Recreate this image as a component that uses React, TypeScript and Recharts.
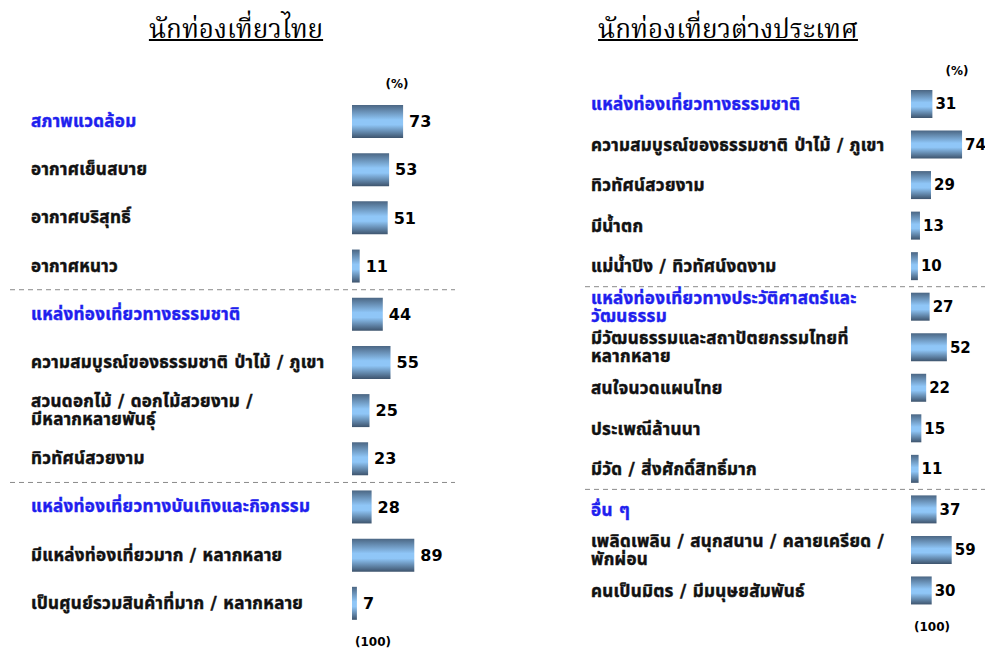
import { Bar, BarChart, LabelList, XAxis, YAxis } from "recharts";

// left panel: Thai tourists
const thaiLabels = [
  "สภาพแวดล้อม",
  "อากาศเย็นสบาย",
  "อากาศบริสุทธิ์",
  "อากาศหนาว",
  "แหล่งท่องเที่ยวทางธรรมชาติ",
  "ความสมบูรณ์ของธรรมชาติ ป่าไม้ / ภูเขา",
  "สวนดอกไม้ / ดอกไม้สวยงาม /\nมีหลากหลายพันธุ์",
  "ทิวทัศน์สวยงาม",
  "แหล่งท่องเที่ยวทางบันเทิงและกิจกรรม",
  "มีแหล่งท่องเที่ยวมาก / หลากหลาย",
  "เป็นศูนย์รวมสินค้าที่มาก / หลากหลาย",
];
const thaiValues = [73, 53, 51, 11, 44, 55, 25, 23, 28, 89, 7];
const thaiHeaders = [0, 4, 8];

// right panel: foreign tourists
const foreignLabels = [
  "แหล่งท่องเที่ยวทางธรรมชาติ",
  "ความสมบูรณ์ของธรรมชาติ ป่าไม้ / ภูเขา",
  "ทิวทัศน์สวยงาม",
  "มีน้ำตก",
  "แม่น้ำปิง / ทิวทัศน์งดงาม",
  "แหล่งท่องเที่ยวทางประวัติศาสตร์และ\nวัฒนธรรม",
  "มีวัฒนธรรมและสถาปัตยกรรมไทยที่\nหลากหลาย",
  "สนใจนวดแผนไทย",
  "ประเพณีล้านนา",
  "มีวัด / สิ่งศักดิ์สิทธิ์มาก",
  "อื่น ๆ",
  "เพลิดเพลิน / สนุกสนาน / คลายเครียด /\nพักผ่อน",
  "คนเป็นมิตร / มีมนุษยสัมพันธ์",
];
const foreignValues = [31, 74, 29, 13, 10, 27, 52, 22, 15, 11, 37, 59, 30];
const foreignHeaders = [0, 5, 10];

const font = 'Tahoma, Verdana, "DejaVu Sans", "Noto Sans Thai", Loma, Garuda, sans-serif';
const titleFont = '"Angsana New", Norasi, Kinnari, "Noto Serif Thai", "Liberation Serif", serif';
const lineGap = 18;

const toRows = (labels: string[], values: number[]) =>
  labels.map((name, i) => ({ name, value: values[i] }));

type Panel = {
  title: string;
  labels: string[];
  values: number[];
  headers: number[];
  left: number;
  width: number;
  axisWidth: number;
  plotWidth: number;
  top: number;
  bottom: number;
  barSize: number;
  textX: number;
  sepFrom: number;
  sepTo: number;
  titleX: number;
  pctX: number;
  pctY: number;
  baseX: number;
  baseY: number;
  valueSize: number;
  valueOffset: number;
};

function makeTick(p: Panel, rowStep: number) {
  return function Tick(props: any) {
    const { y, payload, index } = props;
    const lines = String(payload.value).split("\n");
    const isHeader = p.headers.includes(index);
    const y0 = y - ((lines.length - 1) * lineGap) / 2;
    const color = isHeader ? "#1f1fee" : "#111";
    return (
      <g>
        {isHeader && index > 0 && (
          <line
            x1={p.sepFrom}
            x2={p.sepTo}
            y1={y - rowStep / 2}
            y2={y - rowStep / 2}
            stroke="#8a8a8a"
            strokeDasharray="5 4"
          />
        )}
        <text
          x={p.textX}
          y={y0}
          fontFamily={font}
          fontSize={17}
          fontWeight="bold"
          letterSpacing={0.3}
          fill={color}
          stroke={color}
          strokeWidth={0.45}
        >
          {lines.map((l, i) => (
            <tspan key={i} x={p.textX} dy={i === 0 ? "0.35em" : lineGap}>
              {l}
            </tspan>
          ))}
        </text>
      </g>
    );
  };
}

function PanelChart({ p, id }: { p: Panel; id: string }) {
  const data = toRows(p.labels, p.values);
  const height = 652;
  const rowStep = (height - p.top - p.bottom) / data.length;
  const Tick = makeTick(p, rowStep);
  return (
    <div style={{ position: "absolute", left: p.left, top: 0 }}>
      <BarChart
        width={p.width}
        height={height}
        data={data}
        layout="vertical"
        margin={{ top: p.top, bottom: p.bottom, left: 0, right: p.width - p.axisWidth - p.plotWidth }}
      >
        <defs>
          <linearGradient id={id} x1="0" y1="0" x2="0" y2="1">
            <stop offset="0%" stopColor="#4b6683" />
            <stop offset="45%" stopColor="#8fc6f7" />
            <stop offset="60%" stopColor="#8fc6f7" />
            <stop offset="100%" stopColor="#3e546d" />
          </linearGradient>
        </defs>
        <XAxis type="number" domain={[0, 100]} hide />
        <YAxis
          type="category"
          dataKey="name"
          width={p.axisWidth}
          axisLine={false}
          tickLine={false}
          interval={0}
          tick={<Tick />}
        />
        <Bar dataKey="value" fill={`url(#${id})`} barSize={p.barSize} isAnimationActive={false}>
          <LabelList
            dataKey="value"
            position="right"
            offset={p.valueOffset}
            fill="#000"
            fontFamily={font}
            fontSize={p.valueSize}
            fontWeight="bold"
          />
        </Bar>
      </BarChart>
      <div
        style={{
          position: "absolute",
          left: p.titleX - p.left,
          top: 10,
          transform: "translateX(-50%)",
          whiteSpace: "nowrap",
          fontFamily: titleFont,
          fontSize: 26,
          textDecoration: "underline",
          textDecorationThickness: 2,
          color: "#000",
        }}
      >
        {p.title}
      </div>
      <div style={{ position: "absolute", left: p.pctX - p.left, top: p.pctY, transform: "translate(-50%,-50%)", fontFamily: font, fontSize: 12, fontWeight: "bold" }}>
        (%)
      </div>
      <div style={{ position: "absolute", left: p.baseX - p.left, top: p.baseY, transform: "translate(-50%,-50%)", fontFamily: font, fontSize: 12, fontWeight: "bold" }}>
        (100)
      </div>
    </div>
  );
}

const leftPanel: Panel = {
  title: "นักท่องเที่ยวไทย",
  labels: thaiLabels,
  values: thaiValues,
  headers: thaiHeaders,
  left: 0,
  width: 470,
  axisWidth: 352,
  plotWidth: 70,
  top: 97,
  bottom: 25,
  barSize: 33,
  textX: 31,
  sepFrom: 10,
  sepTo: 455,
  titleX: 236,
  pctX: 397,
  pctY: 84,
  baseX: 373,
  baseY: 642,
  valueSize: 16,
  valueOffset: 6,
};

const rightPanel: Panel = {
  title: "นักท่องเที่ยวต่างประเทศ",
  labels: foreignLabels,
  values: foreignValues,
  headers: foreignHeaders,
  left: 490,
  width: 495,
  axisWidth: 421,
  plotWidth: 69,
  top: 84,
  bottom: 41,
  barSize: 28,
  textX: 101,
  sepFrom: 95,
  sepTo: 495,
  titleX: 728,
  pctX: 957,
  pctY: 71,
  baseX: 932,
  baseY: 627,
  valueSize: 15,
  valueOffset: 3,
};

export default function App() {
  return (
    <div style={{ position: "absolute", left: 0, top: 0, width: 985, height: 652, background: "#fff", overflow: "hidden" }}>
      <PanelChart p={leftPanel} id="gradLeft" />
      <PanelChart p={rightPanel} id="gradRight" />
    </div>
  );
}
